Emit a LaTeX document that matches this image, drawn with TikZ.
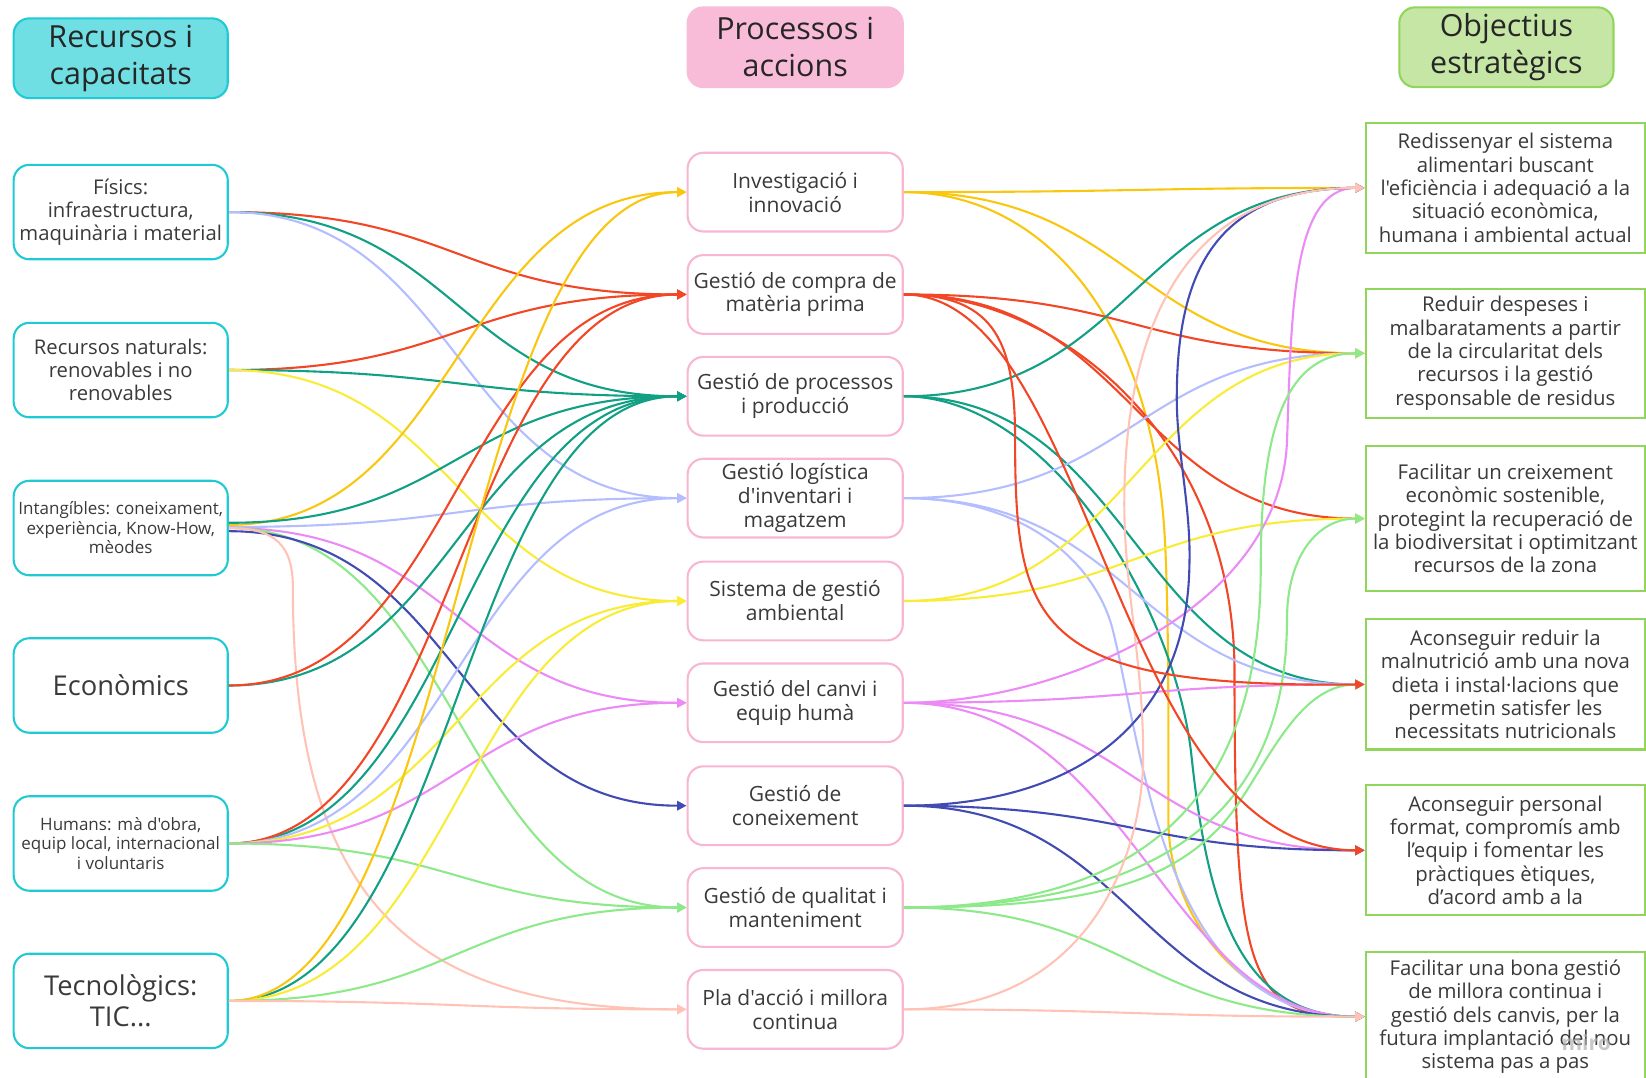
\documentclass[tikz,border=0pt]{standalone}
\usepackage{fontspec}
\setmainfont{Open Sans}[Ligatures=TeXOff]
\usetikzlibrary{arrows.meta}

\definecolor{ink}{HTML}{3A3A3A}
\definecolor{cyanB}{HTML}{1FCAD5}
\definecolor{cyanF}{HTML}{6FDFE3}
\definecolor{pinkB}{HTML}{F8B6D3}
\definecolor{pinkF}{HTML}{F8BCD8}
\definecolor{greenB}{HTML}{8FD65A}
\definecolor{greenF}{HTML}{C6E6A5}
\definecolor{lkRed}{HTML}{F24726}
\definecolor{lkTeal}{HTML}{12A085}
\definecolor{lkLav}{HTML}{B4BEFF}
\definecolor{lkGold}{HTML}{FAC710}
\definecolor{lkYel}{HTML}{F9EC38}
\definecolor{lkPink}{HTML}{EC8AF6}
\definecolor{lkBlue}{HTML}{414BB2}
\definecolor{lkGrn}{HTML}{8DE98A}
\definecolor{lkSal}{HTML}{FFC3B6}

\begin{document}
\begin{tikzpicture}[x=1pt,y=-1pt,
  box/.style={line width=2pt, align=center, text=ink, inner sep=0pt},
  lb/.style={box, draw=cyanB, fill=white, rounded corners=15pt,
    minimum width=204pt, minimum height=90pt,
    font=\fontsize{19.3}{21.8}\selectfont},
  lsmall/.style={font=\fontsize{16.2}{18.6}\selectfont},
  lbig/.style={font=\fontsize{26}{29}\selectfont},
  mb/.style={box, draw=pinkB, fill=white, rounded corners=15pt,
    minimum width=205pt, minimum height=75pt,
    font=\fontsize{20}{22.8}\selectfont},
  rb/.style={box, draw=greenB, fill=white,
    minimum width=266pt, font=\fontsize{19.4}{22.2}\selectfont},
  head/.style={box, rounded corners=15pt, minimum width=204pt,
    minimum height=76pt, text=black!85, font=\fontsize{29}{35}\selectfont},
  arrowed/.style={line width=2pt, -{Triangle[length=9pt,width=9pt]}},
  lk/.style={arrowed,
    to path={.. controls +(219,0) and +(-219,0) .. (\tikztotarget)}},
  cv/.style={arrowed}
]
\useasboundingbox (0,0) rectangle (1568,1026);

% ---- column headers ----
\node[head, draw=cyanB, fill=cyanF] (hL) at (115,55.5) {Recursos i\\capacitats};
\node[head, draw=pinkF, fill=pinkF, minimum width=205pt] (hM) at (757.5,45) {Processos i\\accions};
\node[head, draw=greenB, fill=greenF] (hR) at (1435,45) {Objectius\\estratègics};

% ---- resources ----
\node[lb] (fis) at (115,202) {Físics:\\infraestructura,\\maquinària i material};
\node[lb] (nat) at (115,352.5) {Recursos naturals:\\renovables i no\\renovables};
\node[lb,lsmall] (int) at (115,503) {Intangíbles: coneixament,\\experiència, Know-How,\\mèodes};
\node[lb,lbig] (eco) at (115,653) {Econòmics};
\node[lb,lsmall] (hum) at (115,803.5) {Humans: mà d'obra,\\equip local, internacional\\i voluntaris};
\node[lb,lbig] (tec) at (115,953.5) {Tecnològics:\\TIC...};

% ---- processes ----
\node[mb] (inv) at (757.5,183) {Investigació i\\innovació};
\node[mb] (com) at (757.5,280.5) {Gestió de compra de\\matèria prima};
\node[mb] (pro) at (757.5,377.5) {Gestió de processos\\i producció};
\node[mb] (log) at (757.5,474.5) {Gestió logística\\d'inventari i\\magatzem};
\node[mb] (sis) at (757.5,572.5) {Sistema de gestió\\ambiental};
\node[mb] (can) at (757.5,669.5) {Gestió del canvi i\\equip humà};
\node[mb] (con) at (757.5,767.5) {Gestió de\\coneixement};
\node[mb] (qua) at (757.5,864.5) {Gestió de qualitat i\\manteniment};
\node[mb] (pla) at (757.5,961.5) {Pla d'acció i millora\\continua};

% ---- objectives ----
\node[rb, minimum height=124pt] (r1) at (1434,179) {Redissenyar el sistema\\alimentari buscant\\l'eficiència i adequació a la\\situació econòmica,\\humana i ambiental actual};
\node[rb, minimum height=123pt] (r2) at (1434,336.5) {Reduir despeses i\\malbarataments a partir\\de la circularitat dels\\recursos i la gestió\\responsable de residus};
\node[rb, minimum height=138pt] (r3) at (1434,494) {Facilitar un creixement\\econòmic sostenible,\\protegint la recuperació de\\la biodiversitat i optimitzant\\recursos de la zona};
\node[rb, minimum height=124pt] (r4) at (1434,652) {Aconseguir reduir la\\malnutrició amb una nova\\dieta i instal·lacions que\\permetin satisfer les\\necessitats nutricionals};
\node[rb, minimum height=124pt] (r5) at (1434,810) {Aconseguir personal\\format, compromís amb\\l’equip i fomentar les\\pràctiques ètiques,\\d’acord amb a la};
\node[rb, minimum height=123pt] (r6) at (1434,968.5) {Facilitar una bona gestió\\de millora continua i\\gestió dels canvis, per la\\futura implantació del nou\\sistema pas a pas};

% ---- resources -> processes ----
\draw[lk,lkRed] (fis.east) to (com.west);
\draw[lk,lkTeal] (fis.east) to (pro.west);
\draw[lk,lkLav] (fis.east) to (log.west);
\draw[lk,lkRed] (nat.east) to (com.west);
\draw[lk,lkTeal] (nat.east) to (pro.west);
\draw[lk,lkYel] (nat.east) to (sis.west);
\draw[lk,lkGold] ([yshift=3pt]int.east) to (inv.west);
\draw[lk,lkTeal] ([yshift=5pt]int.east) to (pro.west);
\draw[lk,lkLav] ([yshift=1pt]int.east) to (log.west);
\draw[lk,lkPink] (int.east) to (can.west);
\draw[lk,lkGrn] (int.east) to (qua.west);
\draw[lk,lkBlue] ([yshift=-3pt]int.east) to (con.west);
\draw[cv,lkSal] (int.east) .. controls +(45,0) and +(0,-40) .. (279,560)
  .. controls +(0,300) and +(-260,0) .. (pla.west);
\draw[lk,lkTeal] (eco.east) to (pro.west);
\draw[lk,lkRed] (eco.east) to (com.west);
\draw[lk,lkTeal] (hum.east) to (pro.west);
\draw[lk,lkRed] (hum.east) to (com.west);
\draw[lk,lkLav] (hum.east) to (log.west);
\draw[lk,lkYel] (hum.east) to (sis.west);
\draw[lk,lkPink] (hum.east) to (can.west);
\draw[lk,lkGrn] (hum.east) to (qua.west);
\draw[lk,lkTeal] (tec.east) to (pro.west);
\draw[lk,lkYel] (tec.east) to (sis.west);
\draw[lk,lkGold] (tec.east) to (inv.west);
\draw[lk,lkGrn] (tec.east) to (qua.west);
\draw[lk,lkSal] (tec.east) to (pla.west);

% ---- processes -> objectives ----
\draw[lk,lkGold] (inv.east) to (r1.west);
\draw[lk,lkGold] (inv.east) to (r2.west);
\draw[cv,lkGold] (inv.east) .. controls +(130,0) and +(-10,-220) .. (1110,520)
  .. controls +(3.6,80) and +(0,-80) .. (1113,780)
  .. controls +(0,104) and +(-104,0) .. (r6.west);
\draw[lk,lkRed] (com.east) to (r2.west);
\draw[lk,lkRed] (com.east) to (r3.west);
\draw[cv,lkRed] (com.east) .. controls +(150,0) and +(0,-220) .. (1176,640)
  .. controls +(0,290) and +(-111,0) .. (r6.west);
\draw[lk,lkTeal] (pro.east) to (r1.west);
\draw[lk,lkTeal] (pro.east) to (r4.west);
\draw[cv,lkTeal] (pro.east) .. controls +(140,0) and +(-15,-140) .. (1135,720)
  .. controls +(15,140) and +(-121,0) .. (r6.west);
\draw[lk,lkLav] (log.east) to (r2.west);
\draw[lk,lkLav] (log.east) to (r4.west);
\draw[cv,lkLav] (log.east) .. controls +(120,0) and +(-15,-60) .. (1060,600)
  .. controls +(30,120) and +(-191,0) .. (r6.west);
\draw[lk,lkYel] (sis.east) to (r2.west);
\draw[lk,lkYel] (sis.east) to (r3.west);
\draw[cv,lkPink] (can.east) .. controls +(150,0) and +(-6,160) .. (1226,420)
  .. controls +(4.5,-120) and +(-70,0) .. (r1.west);
\draw[lk,lkPink] (can.east) to (r4.west);
\draw[lk,lkPink] (can.east) to (r5.west);
\draw[cv,lkPink] (can.east) .. controls +(220,0) and +(-191,0) .. (r6.west);
\draw[cv,lkBlue] (con.east) .. controls +(150,0) and +(-3,160) .. (1133,540)
  .. controls +(2,-55) and +(0,50) .. (1121,380)
  .. controls +(0,-110) and +(-150,0) .. (r1.west);
\draw[lk,lkBlue] (con.east) to (r5.west);
\draw[lk,lkBlue] (con.east) to (r6.west);
\draw[cv,lkGrn] (qua.east) .. controls +(230,0) and +(0,220) .. (1201,540)
  .. controls +(0,-120) and +(-80,0) .. (r2.west);
\draw[cv,lkGrn] (qua.east) .. controls +(250,0) and +(0,180) .. (1226,590)
  .. controls +(0,-60) and +(-45,0) .. (r3.west);
\draw[cv,lkGrn] (qua.east) .. controls +(180,0) and +(-50,50) .. (1160,790)
  .. controls +(40,-40) and +(-71,0) .. (r4.west);
\draw[lk,lkGrn] (qua.east) to (r6.west);
\draw[cv,lkSal] (pla.east) .. controls +(180,0) and +(0,90) .. (1089,720)
  .. controls +(0,-90) and +(0,80) .. (1071,480)
  .. controls +(0,-170) and +(-170,0) .. (r1.west);
\draw[lk,lkSal] (pla.east) to (r6.west);
\draw[cv,lkRed] (com.east) .. controls +(90,0) and +(0,-90) .. (967,420)
  .. controls +(0,180) and +(-311,3) .. (r4.west);
\draw[cv,lkRed] (com.east) .. controls +(180,0) and +(-241,0) .. (r5.west);

% ---- watermark ----
\node[text=black!30, opacity=0.7, font=\bfseries\fontsize{20}{20}\selectfont] (wm) at (1511,993) {miro};
\end{tikzpicture}
\end{document}
